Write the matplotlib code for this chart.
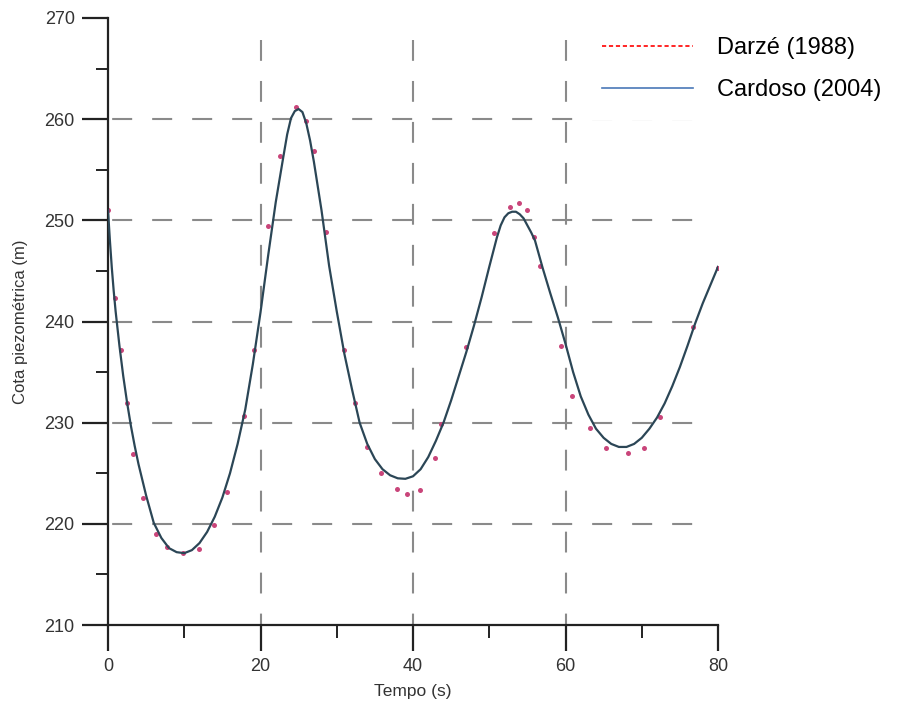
import matplotlib
matplotlib.use("Agg")
import matplotlib.pyplot as plt
from matplotlib.lines import Line2D
from matplotlib.ticker import MultipleLocator

plt.rcParams['font.family'] = ['Liberation Sans', 'DejaVu Sans']
plt.rcParams['lines.scale_dashes'] = False

# Cardoso (2004) - continuous curve (time s, piezometric head m)
curve_t = [0, 0.25, 0.5, 0.75, 1, 1.5, 2, 2.5, 3, 3.5, 4, 5, 6, 7, 8, 9, 10, 11,
           12, 13, 14, 15, 16, 17, 18, 19, 20, 21, 22, 23, 23.5, 24, 24.5, 25,
           25.5, 26, 26.5, 27, 28, 29, 30, 31, 32, 33, 34, 35, 36, 37, 38, 39,
           40, 41, 42, 43, 44, 45, 46, 47, 48, 49, 50, 51, 51.5, 52, 52.5, 53,
           53.5, 54, 54.5, 55, 55.5, 56, 57, 58, 59, 60, 61, 62, 63, 64, 65,
           66, 67, 68, 69, 70, 71, 72, 73, 74, 75, 76, 77, 78, 79, 80]
curve_h = [251.0, 248.0, 245.3, 243.0, 241.0, 237.6, 234.6, 232.0, 229.7, 227.7,
           225.9, 222.8, 220.1, 218.6, 217.6, 217.2, 217.1, 217.4,
           218.1, 219.2, 220.7, 222.6, 225.0, 227.9, 231.3, 235.8, 240.9, 246.5,
           251.8, 256.3, 258.5, 260.1, 260.8, 261.0,
           260.7, 259.6, 257.9, 255.8, 251.0, 245.5, 241.0, 236.8, 233.3, 230.0,
           227.9, 226.4, 225.4, 224.8, 224.5, 224.45,
           224.7, 225.4, 226.6, 228.2, 230.0, 232.2, 234.6, 237.0, 239.6, 242.4,
           245.4, 248.3, 249.5, 250.3, 250.7, 250.85,
           250.85, 250.6, 250.2, 249.5, 248.8, 248.0, 245.3, 242.8, 240.4, 237.8,
           235.0, 232.6, 230.8, 229.4, 228.5,
           227.9, 227.6, 227.6, 227.9, 228.5, 229.4, 230.5, 231.9, 233.6, 235.5,
           237.6, 239.8, 241.8, 243.6, 245.4]

# Darzé (1988) - discrete points
pts_t = [0, 0.9, 1.7, 2.5, 3.3, 4.6, 6.3, 7.7, 9.9, 11.9, 13.9, 15.6, 17.8, 19.1,
         21.0, 22.6, 24.7, 26.0, 27.0, 28.6, 30.9, 32.4, 34.0, 35.8, 37.9, 39.2,
         40.9, 42.9, 43.7, 47.0, 50.6, 52.7, 53.9, 55.0, 55.9, 56.6, 59.4, 60.9,
         63.2, 65.3, 68.2, 70.3, 72.4, 76.7, 80.0]
pts_h = [251.0, 242.3, 237.2, 231.9, 226.9, 222.6, 219.0, 217.7, 217.1, 217.5,
         219.9, 223.1, 230.7, 237.2, 249.4, 256.4, 261.2, 259.8, 256.9, 248.8,
         237.2, 231.9, 227.6, 225.0, 223.4, 222.9, 223.3, 226.5, 229.9, 237.5,
         248.7, 251.3, 251.7, 251.0, 248.4, 245.5, 237.6, 232.6, 229.5, 227.5,
         227.0, 227.5, 230.6, 239.5, 245.3]

grid_h = [220, 230, 240, 250, 260]
grid_v = [20, 40, 60]
legend_labels = ['Darzé (1988)', 'Cardoso (2004)']

fig = plt.figure(figsize=(9.10, 7.09), dpi=100)
ax = fig.add_axes([108/910, (709-625)/709, 610/910, 607/709])

grid_color = '#8a8a8a'
ax.hlines(grid_h, 0, 77.6, colors=grid_color, linewidth=1.5,
          linestyles=(25.8, (14.4, 14.4)), zorder=1)
ax.vlines(grid_v, 267.8, 210, colors=grid_color, linewidth=1.5,
          linestyles=(0, (15.0, 14.5)), zorder=1)

ax.plot(pts_t, pts_h, linestyle='none', marker='o', markersize=3.6,
        color='#c9457a', markeredgewidth=0, zorder=2)
ax.plot(curve_t, curve_h, color='#2b4656', linewidth=1.6, zorder=3)

ax.set_xlim(0, 80)
ax.set_ylim(210, 270)
ax.xaxis.set_major_locator(MultipleLocator(20))
ax.xaxis.set_minor_locator(MultipleLocator(10))
ax.yaxis.set_major_locator(MultipleLocator(10))
ax.yaxis.set_minor_locator(MultipleLocator(5))

for s in ['top', 'right']:
    ax.spines[s].set_visible(False)
for s in ['left', 'bottom']:
    ax.spines[s].set_linewidth(1.6)
    ax.spines[s].set_color('#222222')

ax.tick_params(which='major', direction='out', length=19, width=1.6,
               color='#222222', labelsize=13, labelcolor='#333333', pad=5)
ax.tick_params(which='minor', direction='out', length=9, width=1.4,
               color='#222222')

ax.set_xlabel('Tempo (s)', fontsize=12.5, color='#333333', labelpad=6)
ax.set_ylabel('Cota piezométrica (m)', fontsize=12, color='#333333', labelpad=12)

handles = [Line2D([0], [0], color='red', linestyle=(0, (3, 2)), linewidth=1.2),
           Line2D([0], [0], color='#4a78b8', linewidth=1.2)]
leg = fig.legend(handles, legend_labels, loc='upper left',
                 bbox_to_anchor=(583/910, 1 - 18/709),
                 bbox_transform=fig.transFigure, fontsize=17, frameon=True,
                 handlelength=3.86, handletextpad=1.0, labelspacing=0.86,
                 borderpad=0.8, borderaxespad=0)
leg.get_frame().set_facecolor('white')
leg.get_frame().set_edgecolor('none')
leg.get_frame().set_alpha(1)
leg.get_frame().set_boxstyle('square', pad=0)

fig.savefig('out.png', dpi=100, facecolor='white')
